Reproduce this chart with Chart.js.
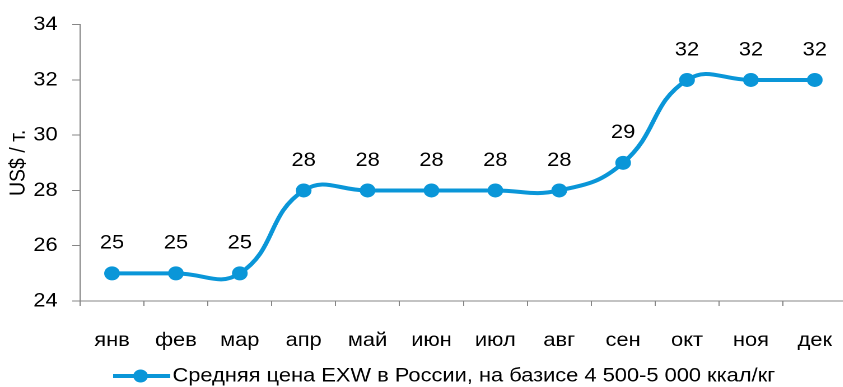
<!DOCTYPE html>
<html>
<head>
<meta charset="utf-8">
<script src="https://cdn.jsdelivr.net/npm/chart.js@4/dist/chart.umd.min.js"></script>
<style>
  html, body { margin: 0; padding: 0; background: #fff; overflow: hidden; }
  /* the reference picture is a bit wider than it is tall, so stretch the drawing sideways */
  #wrap { width: 763px; height: 387px; transform: scaleX(1.12); transform-origin: 0 0; }
</style>
</head>
<body>
<div id="wrap"><canvas id="c" width="763" height="387"></canvas></div>
<script>
// data
const months = ['янв', 'фев', 'мар', 'апр', 'май', 'июн', 'июл', 'авг', 'сен', 'окт', 'ноя', 'дек'];
const prices = [25, 25, 25, 28, 28, 28, 28, 28, 29, 32, 32, 32];
const seriesName = 'Средняя цена EXW в России, на базисе 4 500-5 000 ккал/кг';
const yTitle = 'US$ / т.';

const blue = '#0A96D8';
const axisColor = '#868686';
const font = 'Arial, "Liberation Sans", sans-serif';
const fontSize = 19.5;

// value labels above each point + legend at the bottom
const labelsPlugin = {
  id: 'valueLabels',
  afterDatasetsDraw(chart) {
    const ctx = chart.ctx;
    const meta = chart.getDatasetMeta(0);
    ctx.save();
    ctx.font = fontSize + 'px ' + font;
    ctx.fillStyle = '#000';
    ctx.textAlign = 'center';
    ctx.textBaseline = 'middle';
    meta.data.forEach((pt, i) => {
      ctx.fillText(String(prices[i]), pt.x, pt.y - 30);
    });
    ctx.restore();
  },
  afterDraw(chart) {
    const ctx = chart.ctx;
    const y = 376;
    ctx.save();
    ctx.strokeStyle = blue;
    ctx.lineWidth = 4;
    ctx.beginPath();
    ctx.moveTo(101, y);
    ctx.lineTo(152, y);
    ctx.stroke();
    ctx.fillStyle = blue;
    ctx.beginPath();
    ctx.arc(125.5, y, 6.5, 0, Math.PI * 2);
    ctx.fill();
    ctx.font = fontSize + 'px ' + font;
    ctx.fillStyle = '#000';
    ctx.textAlign = 'left';
    ctx.textBaseline = 'middle';
    ctx.fillText(seriesName, 154, y);
    ctx.restore();
  }
};

new Chart(document.getElementById('c'), {
  type: 'line',
  data: {
    labels: months,
    datasets: [{
      label: seriesName,
      data: prices,
      borderColor: blue,
      backgroundColor: blue,
      borderWidth: 4,
      pointRadius: 7,
      pointHoverRadius: 7,
      pointBackgroundColor: blue,
      pointBorderWidth: 0,
      tension: 0.45,
      fill: false
    }]
  },
  options: {
    responsive: false,
    animation: false,
    devicePixelRatio: 2,
    layout: { padding: { top: 20, right: 0, bottom: 36, left: 0 } },
    plugins: {
      legend: { display: false },
      tooltip: { enabled: false }
    },
    scales: {
      x: {
        offset: true,
        afterFit(s) { s.height = 50; },
        grid: {
          offset: true,
          drawOnChartArea: false,
          drawTicks: true,
          tickLength: 5,
          color: axisColor
        },
        border: { display: true, color: axisColor, width: 1 },
        ticks: {
          color: '#000',
          // small padding so no extra room is kept on the right; tall line height pushes labels down
          font: { size: fontSize, family: font, lineHeight: 3.05 },
          padding: 5,
          maxRotation: 0,
          autoSkip: false
        }
      },
      y: {
        min: 24,
        max: 34,
        afterFit(s) { s.width = 71.5; },
        grid: {
          drawOnChartArea: false,
          drawTicks: true,
          tickLength: 7,
          color: axisColor
        },
        border: { display: true, color: axisColor, width: 1 },
        ticks: {
          stepSize: 2,
          color: '#000',
          font: { size: fontSize, family: font },
          padding: 13
        },
        title: {
          display: true,
          text: yTitle,
          color: '#000',
          font: { size: fontSize, family: font, weight: 'normal' },
          padding: { top: 5, bottom: 0 }
        }
      }
    }
  },
  plugins: [labelsPlugin]
});
</script>
</body>
</html>
